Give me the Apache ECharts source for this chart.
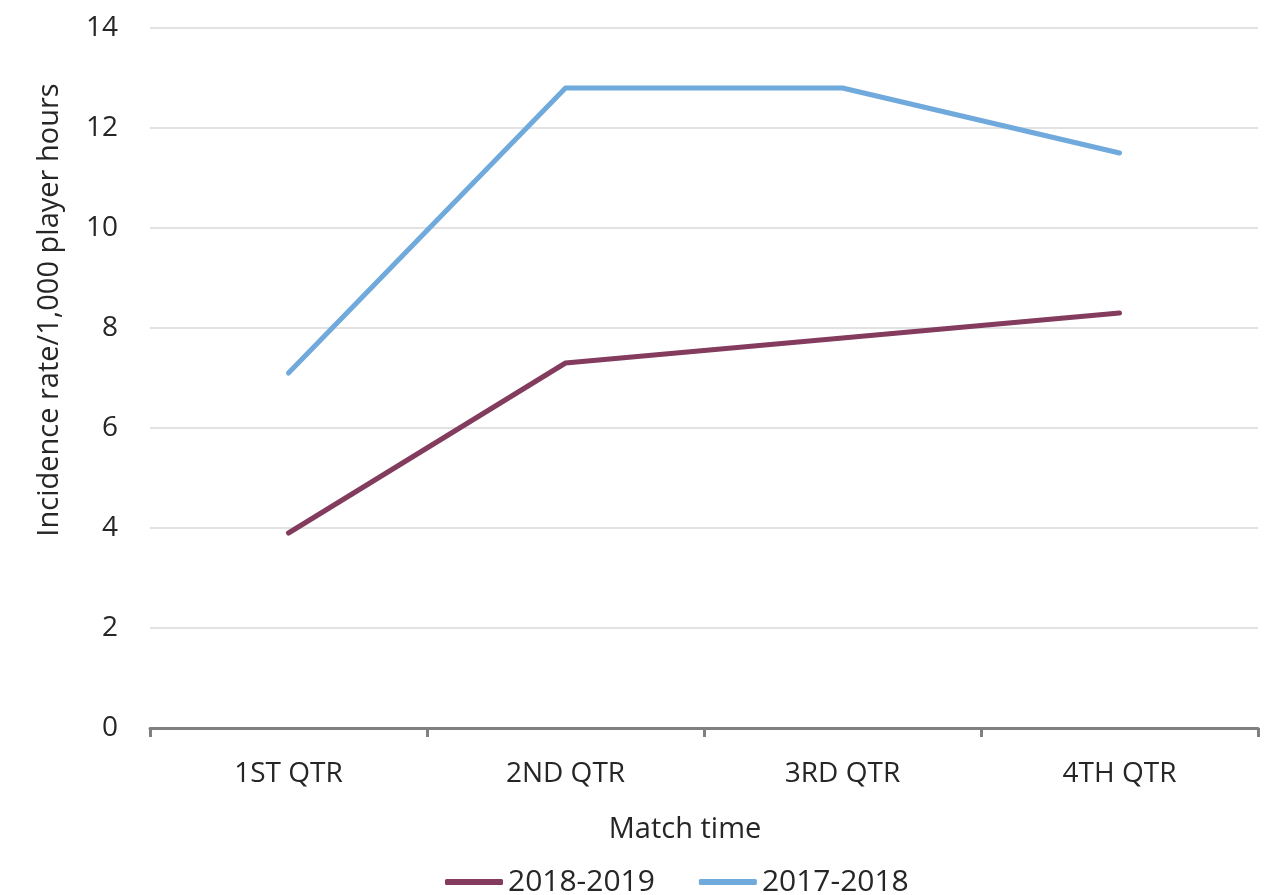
<!DOCTYPE html>
<html>
<head>
<meta charset="utf-8">
<script src="https://cdn.jsdelivr.net/npm/echarts@6/dist/echarts.min.js"></script>
<style>html,body{margin:0;padding:0;background:#fff}#c{width:1275px;height:895px}</style>
</head>
<body>
<div id="c"></div>
<script>
const categories = ['1ST QTR', '2ND QTR', '3RD QTR', '4TH QTR'];
const s2018_2019 = [3.9, 7.3, 7.8, 8.3];
const s2017_2018 = [7.1, 12.8, 12.8, 11.5];
const yTicks = { min: 0, max: 14, interval: 2 };

const font = '"Open Sans", "Noto Sans", sans-serif';
const chart = echarts.init(document.getElementById('c'));
chart.setOption({
  animation: false,
  textStyle: { fontFamily: font },
  grid: { left: 150, right: 17, top: 28, bottom: 167, containLabel: false },
  legend: {
    top: 862,
    left: 440,
    icon: 'roundRect',
    itemWidth: 58,
    itemHeight: 6,
    itemGap: 44,
    textStyle: { fontSize: 30, color: '#262626', fontFamily: font },
    data: ['2018-2019', '2017-2018']
  },
  xAxis: {
    type: 'category',
    data: categories,
    boundaryGap: true,
    name: 'Match time',
    nameLocation: 'middle',
    nameGap: 87,
    nameTextStyle: { fontSize: 29, color: '#262626', padding: [0, 38, 0, 0] },
    axisLine: { lineStyle: { color: '#808080', width: 3 } },
    axisTick: { show: true, length: 9, lineStyle: { color: '#808080', width: 3 } },
    axisLabel: { fontSize: 28, color: '#262626', margin: 32 }
  },
  yAxis: {
    type: 'value',
    min: yTicks.min, max: yTicks.max, interval: yTicks.interval,
    name: 'Incidence rate/1,000 player hours',
    nameLocation: 'middle',
    nameGap: 86,
    nameTextStyle: { fontSize: 29, color: '#262626', padding: [0, 0, 0, 136] },
    axisLine: { show: false },
    axisTick: { show: false },
    axisLabel: { fontSize: 28, color: '#262626', margin: 32 },
    splitLine: { lineStyle: { color: '#d9d9d9', width: 1.5 } }
  },
  series: [
    {
      name: '2018-2019', type: 'line', data: s2018_2019,
      showSymbol: false, symbol: 'circle',
      lineStyle: { color: '#843c5e', width: 5, cap: 'round', join: 'round' },
      itemStyle: { color: '#843c5e' }
    },
    {
      name: '2017-2018', type: 'line', data: s2017_2018,
      showSymbol: false, symbol: 'circle',
      lineStyle: { color: '#70a9dc', width: 5, cap: 'round', join: 'round' },
      itemStyle: { color: '#70a9dc' }
    }
  ]
});
</script>
</body>
</html>
